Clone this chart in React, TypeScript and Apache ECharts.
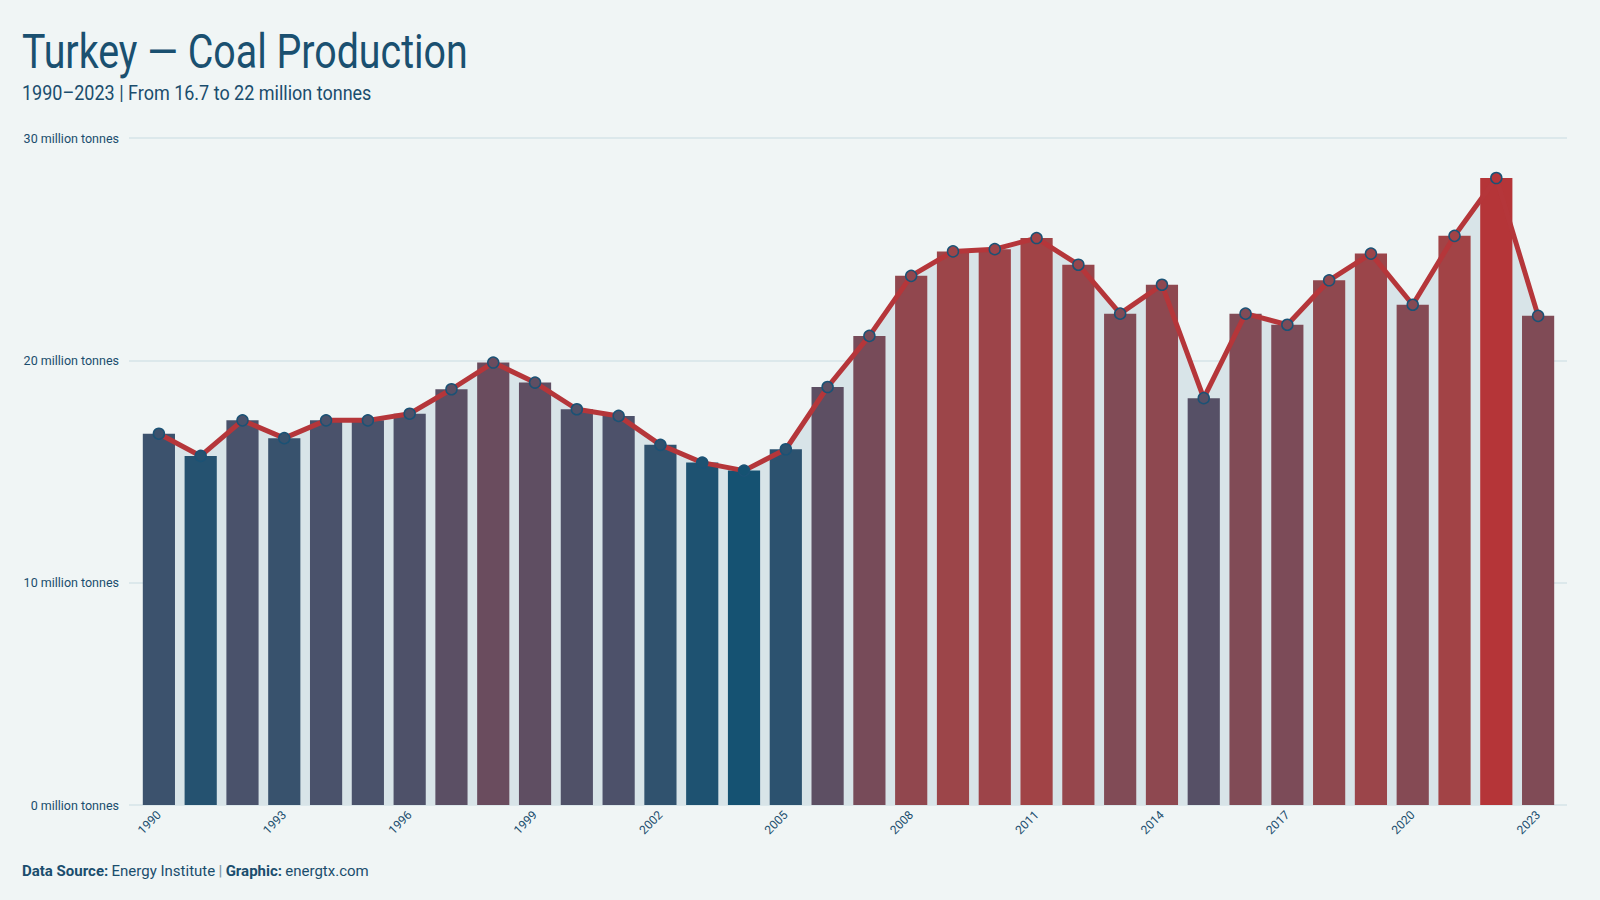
import React, { useEffect, useRef } from "react";
import * as echarts from "echarts";

// Turkey coal production, million tonnes
const years: string[] = [
  "1990", "1991", "1992", "1993", "1994", "1995", "1996", "1997", "1998", "1999",
  "2000", "2001", "2002", "2003", "2004", "2005", "2006", "2007", "2008", "2009",
  "2010", "2011", "2012", "2013", "2014", "2015", "2016", "2017", "2018", "2019",
  "2020", "2021", "2022", "2023",
];
const production: number[] = [
  16.7, 15.7, 17.3, 16.5, 17.3, 17.3, 17.6, 18.7, 19.9, 19.0,
  17.8, 17.5, 16.2, 15.4, 15.04, 16.0, 18.8, 21.1, 23.8, 24.9,
  25.0, 25.5, 24.3, 22.1, 23.4, 18.3, 22.1, 21.6, 23.6, 24.8,
  22.5, 25.6, 28.2, 22.0,
];
const yTicks: number[] = [0, 10, 20, 30];

const BG = "#f0f5f5";
const INK = "#1a4d6d";

// value -> colour ramp from deep blue to red
const rampStops: [number, string][] = [
  [0, "#155272"],
  [0.17, "#4a526b"],
  [0.37, "#6a4c5e"],
  [0.55, "#834b55"],
  [0.8, "#a24346"],
  [1, "#b53538"],
];
function hexToRgb(h: string): number[] {
  const n = parseInt(h.slice(1), 16);
  return [(n >> 16) & 255, (n >> 8) & 255, n & 255];
}
function rampColor(v: number, lo: number, hi: number): string {
  const t = Math.max(0, Math.min(1, (v - lo) / (hi - lo)));
  for (let i = 1; i < rampStops.length; i++) {
    const [t1, c1] = rampStops[i];
    const [t0, c0] = rampStops[i - 1];
    if (t <= t1) {
      const f = (t - t0) / (t1 - t0);
      const a = hexToRgb(c0);
      const b = hexToRgb(c1);
      const c = a.map((x, k) => Math.round(x + (b[k] - x) * f));
      return `rgb(${c[0]},${c[1]},${c[2]})`;
    }
  }
  return rampStops[rampStops.length - 1][1];
}

export default function App() {
  const ref = useRef<HTMLDivElement>(null);

  useEffect(() => {
    if (!ref.current) return;
    const chart = echarts.init(ref.current, undefined, { renderer: "svg" });
    const lo = Math.min(...production);
    const hi = Math.max(...production);
    const colors = production.map((v) => rampColor(v, lo, hi));
    const font = "Roboto, 'Noto Sans', sans-serif";

    chart.setOption({
      animation: false,
      backgroundColor: BG,
      textStyle: { fontFamily: font },
      grid: [
        { left: 129, right: 33, top: 138, bottom: 95 },
        { left: 138, right: 41, top: 138, bottom: 95 },
      ],
      xAxis: [
        { type: "value", gridIndex: 0, show: false, min: 0, max: 1 },
        {
          type: "category",
          gridIndex: 1,
          data: years,
          axisLine: { show: false },
          axisTick: { show: false },
          axisLabel: {
            interval: 2,
            rotate: 45,
            fontSize: 12,
            color: INK,
            fontFamily: font,
            margin: 8,
          },
        },
      ],
      yAxis: [
        {
          type: "value",
          gridIndex: 0,
          min: yTicks[0],
          max: yTicks[yTicks.length - 1],
          interval: 10,
          axisLine: { show: false },
          axisTick: { show: false },
          axisLabel: {
            formatter: "{value} million tonnes",
            fontSize: 12.5,
            color: INK,
            fontFamily: font,
            margin: 10,
          },
          splitLine: { lineStyle: { color: "#d6e3e7", width: 1.5 } },
        },
        {
          type: "value",
          gridIndex: 1,
          min: yTicks[0],
          max: yTicks[yTicks.length - 1],
          show: false,
          splitLine: { show: false },
        },
      ],
      series: [
        {
          type: "line",
          name: "area",
          xAxisIndex: 1,
          yAxisIndex: 1,
          data: production,
          symbol: "none",
          lineStyle: { width: 0, opacity: 0 },
          areaStyle: { color: "#d8e4e8", opacity: 1 },
          z: 1,
          silent: true,
        },
        {
          type: "bar",
          name: "bars",
          xAxisIndex: 1,
          yAxisIndex: 1,
          barCategoryGap: "23%",
          data: production.map((v, i) => ({ value: v, itemStyle: { color: colors[i] } })),
          z: 2,
        },
        {
          type: "line",
          name: "Coal production",
          xAxisIndex: 1,
          yAxisIndex: 1,
          data: production.map((v, i) => ({
            value: v,
            itemStyle: { color: colors[i], borderColor: "#1b5275", borderWidth: 1.5 },
          })),
          symbol: "circle",
          symbolSize: 11,
          showAllSymbol: true,
          lineStyle: { color: "#b5363a", width: 5 },
          z: 3,
        },
      ],
      graphic: [
        {
          type: "text",
          left: 22,
          top: 28,
          scaleX: 0.82,
          style: {
            text: "Turkey — Coal Production",
            font: `48px ${font}`,
            fill: "#1a5070",
          },
        },
        {
          type: "text",
          left: 22,
          top: 83,
          scaleX: 0.9,
          style: {
            text: "1990–2023 | From 16.7 to 22 million tonnes",
            font: `20px ${font}`,
            fill: INK,
          },
        },
        {
          type: "text",
          left: 22,
          top: 863,
          style: {
            text: "{b|Data Source:} {n|Energy Institute} {s||} {b|Graphic:} {n|energtx.com}",
            rich: {
              b: { fontWeight: "bold", fontSize: 15, fill: INK, fontFamily: font },
              n: { fontSize: 15, fill: INK, fontFamily: font },
              s: { fontWeight: "bold", fontSize: 15, fill: "#7f98a8", fontFamily: font },
            },
          },
        },
      ],
    });

    return () => chart.dispose();
  }, []);

  return (
    <div
      ref={ref}
      style={{ position: "fixed", left: 0, top: 0, width: 1600, height: 900 }}
    />
  );
}
